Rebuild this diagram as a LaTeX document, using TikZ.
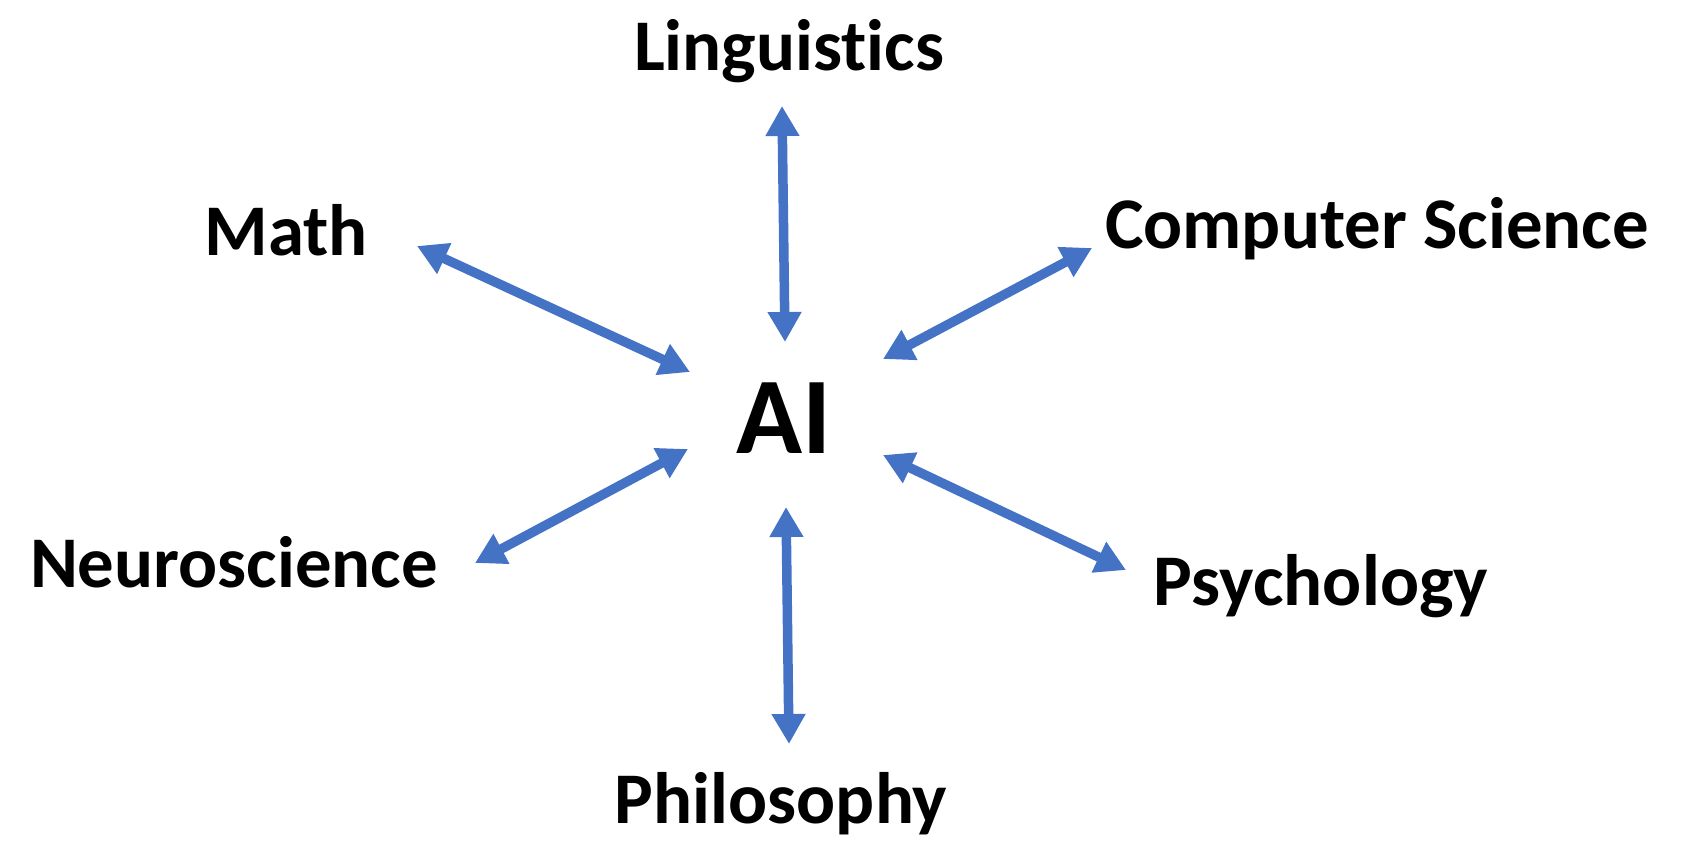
\documentclass[tikz,border=0pt]{standalone}
\usepackage{fontspec}
\setmainfont{Carlito}[Ligatures=NoCommon]
\usetikzlibrary{arrows.meta}
\definecolor{linkblue}{HTML}{4472C4}
\tikzstyle{field}=[font=\fontsize{20.7}{24}\selectfont\bfseries, anchor=base, inner sep=0pt]
\tikzstyle{link}=[draw=linkblue, line width=2.7pt, {Triangle[width=0.32cm,length=0.3cm]}-{Triangle[width=0.32cm,length=0.3cm]}]

\begin{document}
\begin{tikzpicture}[x=0.01cm, y=-0.01cm]
            \useasboundingbox (0,0) rectangle (1682,851);
            \node[field, font=\fontsize{31}{36}\selectfont\bfseries] (ai) at (784,453) {AI};
            \node[field] (ling) at (789,70) {Linguistics};
            \node[field] (math) at (286,255) {Math};
            \node[field] (cs) at (1377,248) {Computer Science};
            \node[field] (neuro) at (234,587) {Neuroscience};
            \node[field] (psych) at (1321,605) {Psychology};
            \node[field] (phil) at (781,823) {Philosophy};
            % arrow ends
            \coordinate (ling-e) at (782,106);
            \coordinate (ai-n) at (785,342);
            \coordinate (math-e) at (417,246);
            \coordinate (ai-nw) at (690,372);
            \coordinate (cs-e) at (1092,248);
            \coordinate (ai-ne) at (883,359);
            \coordinate (neuro-e) at (475,563);
            \coordinate (ai-sw) at (688,449);
            \coordinate (psych-e) at (1126,570);
            \coordinate (ai-se) at (883,455);
            \coordinate (phil-e) at (789,744);
            \coordinate (ai-s) at (786,507);
            \draw[link] (ling-e) -- (ai-n);
            \draw[link] (math-e) -- (ai-nw);
            \draw[link] (cs-e) -- (ai-ne);
            \draw[link] (neuro-e) -- (ai-sw);
            \draw[link] (psych-e) -- (ai-se);
            \draw[link] (phil-e) -- (ai-s);
        \end{tikzpicture}
\end{document}
